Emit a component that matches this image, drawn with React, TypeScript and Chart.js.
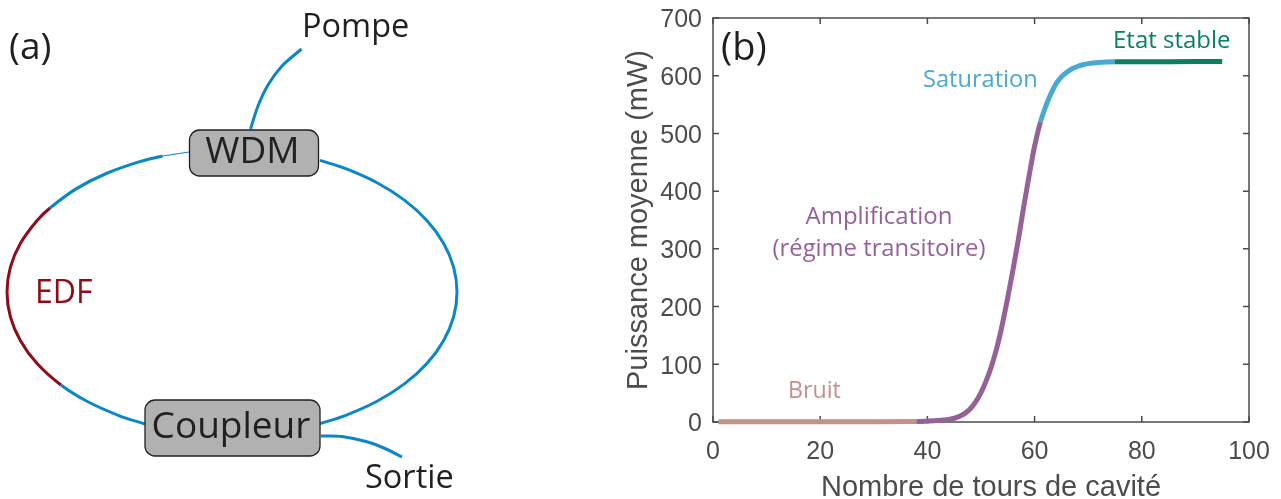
import React, { useEffect, useRef } from "react";
import { Chart, registerables } from "chart.js";

Chart.register(...registerables);

// Panel (b): measured curve, tours de cavité against mW
const turns = [1, 10, 20, 30, 38, 40, 42, 44, 45, 46, 47, 48, 49, 50, 51, 52, 53, 54, 55, 56, 57, 58, 59, 60, 61.1, 62, 63, 64, 65, 66, 67, 68, 69, 70, 72, 75, 80, 85, 90, 95];
const power = [0.3, 0.4, 0.5, 0.6, 0.8, 1.5, 2.5, 4.5, 6.5, 10, 15, 23, 35, 51, 72, 98, 130, 170, 216, 265, 318, 375, 428, 478, 520, 545, 568, 586, 598, 606, 612, 616, 619, 621, 623, 624, 624.2, 624.4, 624.5, 624.5];
// Turn at which each phase ends
const noiseEnd = 38;
const ampEnd = 61.1;
const satEnd = 75;
const xTickStep = 20;
const yTickStep = 100;

// Panel (a): fibre paths, in picture units
const thinFibre = [[189, 152], [162.5, 156]];
const leftLoop = [[162.5, 156], [140.5, 161.4], [106.2, 173.5], [75.7, 189.1], [50, 208], [37.1, 220.5], [20.6, 243.1], [10.4, 267.2], [7, 292], [10.4, 316.8], [20.6, 340.9], [37.1, 363.5], [61, 385], [87.4, 401.5], [119.5, 415.8], [145, 424]];
const edfFirstPoint = 4;
const edfLastPoint = 12;
const fibreRight = [[319.9, 160.4], [344.5, 168.2], [376.6, 182.5], [404.4, 200.1], [426.9, 220.5], [443.4, 243.1], [453.6, 267.2], [457, 292], [453.6, 316.8], [443.4, 340.9], [426.9, 363.5], [404.4, 383.9], [376.6, 401.5], [344.5, 415.8], [319.9, 423.6]];
const pumpFibre = [[250.5, 129], [258, 106], [268, 85], [282, 66], [301.5, 49]];
const outputFibre = [[321, 436], [342, 436.5], [366, 441.5], [385, 448.5], [402, 457]];

const BLUE = "#0b86c9";
const RED = "#8d0c18";
const INK = "#231f20";
const AXIS = "#4b4d4d";
const SANS = '"Open Sans"';
const NOISE = "#c4908a";
const AMP = "#956196";
const SAT = "#4ba9d1";
const STABLE = "#07815f";

const pts = (a: number[][]) => a.map(([x, y]) => ({ x, y }));
const zip = (x: number[], y: number[]) => x.map((v, i) => ({ x: v, y: y[i] }));

function text(ctx: CanvasRenderingContext2D, s: string, x: number, y: number, size: number, color: string, align: CanvasTextAlign = "left", family: string = SANS) {
  ctx.save();
  ctx.font = `${size}px ${family}`;
  ctx.fillStyle = color;
  ctx.textAlign = align;
  ctx.textBaseline = "alphabetic";
  ctx.fillText(s, x, y);
  ctx.restore();
}

function box(ctx: CanvasRenderingContext2D, x: number, y: number, w: number, h: number) {
  ctx.save();
  ctx.beginPath();
  ctx.roundRect(x, y, w, h, 10);
  ctx.fillStyle = "#b1b1b1";
  ctx.fill();
  ctx.strokeStyle = INK;
  ctx.lineWidth = 1.3;
  ctx.stroke();
  ctx.restore();
}

const diagramPlugin = {
  id: "diagram",
  afterDatasetsDraw(chart: any) {
    const { ctx, scales } = chart;
    const X = (v: number) => scales.x.getPixelForValue(v);
    const Y = (v: number) => scales.y.getPixelForValue(v);
    box(ctx, X(189.5), Y(130), 129, 46);
    box(ctx, X(145), Y(400), 175, 56);
    text(ctx, "WDM", X(252.5), Y(163), 37, INK, "center");
    text(ctx, "Coupleur", X(231), Y(438), 37, INK, "center");
    text(ctx, "(a)", X(9), Y(59), 37, INK);
    text(ctx, "Pompe", X(302), Y(37), 32.5, INK);
    text(ctx, "Sortie", X(365), Y(488), 32.5, INK);
    text(ctx, "EDF", X(35), Y(303), 32, RED);
  },
};

const axesPlugin = {
  id: "matlabAxes",
  beforeDraw(chart: any) {
    // The reference's y tick labels sit slightly below their ticks
    chart.scales.y.getLabelItems().forEach((item: any) => { item.options.translation[1] += 2.4; });
  },
  beforeDatasetsDraw(chart: any) {
    const { ctx, chartArea: a, scales } = chart;
    ctx.save();
    ctx.strokeStyle = AXIS;
    ctx.lineWidth = 1.5;
    ctx.strokeRect(a.left, a.top, a.right - a.left, a.bottom - a.top);
    const len = 6;
    ctx.beginPath();
    scales.x.ticks.forEach((_: any, i: number) => {
      const p = scales.x.getPixelForTick(i);
      ctx.moveTo(p, a.bottom); ctx.lineTo(p, a.bottom - len);
      ctx.moveTo(p, a.top); ctx.lineTo(p, a.top + len);
    });
    scales.y.ticks.forEach((_: any, i: number) => {
      const p = scales.y.getPixelForTick(i);
      ctx.moveTo(a.left, p); ctx.lineTo(a.left + len, p);
      ctx.moveTo(a.right, p); ctx.lineTo(a.right - len, p);
    });
    ctx.stroke();
    ctx.restore();
  },
  afterDraw(chart: any) {
    const { ctx } = chart;
    const off = 620;
    text(ctx, "Nombre de tours de cavité", 991 - off, 495.5, 29, AXIS, "center", '"Liberation Sans"');
    text(ctx, "(b)", 721 - off, 60, 38, INK);
    text(ctx, "Etat stable", 1113 - off, 48, 24, STABLE);
    text(ctx, "Saturation", 923 - off, 87, 23.6, SAT);
    text(ctx, "Amplification", 879 - off, 224, 24, "#96619a", "center");
    text(ctx, "(régime transitoire)", 879 - off, 256, 23.8, "#96619a", "center");
    text(ctx, "Bruit", 788 - off, 398, 23.2, NOISE);
  },
};

function makeDiagram(canvas: HTMLCanvasElement) {
  const line = (data: number[][], color: string, width: number) => ({
    data: pts(data), borderColor: color, borderWidth: width, pointRadius: 0, showLine: true, tension: 0.33, clip: false,
  });
  return new Chart(canvas, {
    type: "scatter",
    data: {
      datasets: [
        line(thinFibre, BLUE, 1.2),
        {
          ...line(leftLoop, BLUE, 3),
          segment: {
            borderColor: (c: any) => (c.p0DataIndex >= edfFirstPoint && c.p0DataIndex < edfLastPoint ? RED : BLUE),
          },
        },
        line(fibreRight, BLUE, 3),
        line(pumpFibre, BLUE, 3),
        line(outputFibre, BLUE, 3),
      ],
    },
    options: {
      animation: false, responsive: false,
      plugins: { legend: { display: false }, tooltip: { enabled: false } },
      scales: {
        x: { type: "linear", display: false, min: 0, max: 470 },
        y: { type: "linear", display: false, min: 0, max: 499, reverse: true },
      },
    },
    plugins: [diagramPlugin],
  } as any);
}

function makeCurve(canvas: HTMLCanvasElement) {
  const tickFont = { family: "Liberation Sans", size: 25 };
  const titleFont = { family: "Liberation Sans", size: 29 };
  return new Chart(canvas, {
    type: "line",
    data: {
      datasets: [
        {
          data: zip(turns, power),
          borderColor: AMP,
          borderWidth: 5,
          pointRadius: 0,
          cubicInterpolationMode: "monotone",
          clip: false,
          segment: {
            borderColor: (c: any) => {
              const x = c.p0.parsed.x;
              if (x < noiseEnd) return NOISE;
              if (x < ampEnd) return AMP;
              if (x < satEnd) return SAT;
              return STABLE;
            },
          },
        },
      ],
    },
    options: {
      animation: false, responsive: false,
      layout: { padding: { top: 18, right: 32, left: 0, bottom: 0 } },
      plugins: { legend: { display: false }, tooltip: { enabled: false } },
      scales: {
        x: {
          type: "linear", min: 0, max: 100,
          grid: { display: false }, border: { display: false },
          ticks: { stepSize: xTickStep, color: AXIS, font: tickFont, maxRotation: 0, padding: 7 },
          afterFit(s: any) { s.height = 77; s.paddingLeft = 0; s.paddingRight = 0; },
        },
        y: {
          type: "linear", min: 0, max: 700,
          grid: { display: false }, border: { display: false },
          ticks: { stepSize: yTickStep, color: AXIS, font: tickFont, padding: 3 },
          title: { display: true, text: "Puissance moyenne (mW)", color: AXIS, font: titleFont, padding: { top: 2, bottom: 0 } },
          afterFit(s: any) { s.width = 93; s.paddingTop = 0; s.paddingBottom = 0; },
        },
      },
    },
    plugins: [axesPlugin],
  } as any);
}

export default function App() {
  const left = useRef<HTMLCanvasElement>(null);
  const right = useRef<HTMLCanvasElement>(null);
  useEffect(() => {
    const a = makeDiagram(left.current!);
    const b = makeCurve(right.current!);
    return () => { a.destroy(); b.destroy(); };
  }, []);
  return (
    <div style={{ position: "absolute", left: 0, top: 0, width: 1281, height: 499, background: "#fff", overflow: "hidden" }}>
      <canvas ref={left} width={470} height={499} style={{ position: "absolute", left: 0, top: 0, display: "block" }} />
      <canvas ref={right} width={661} height={499} style={{ position: "absolute", left: 620, top: 0, display: "block" }} />
    </div>
  );
}
